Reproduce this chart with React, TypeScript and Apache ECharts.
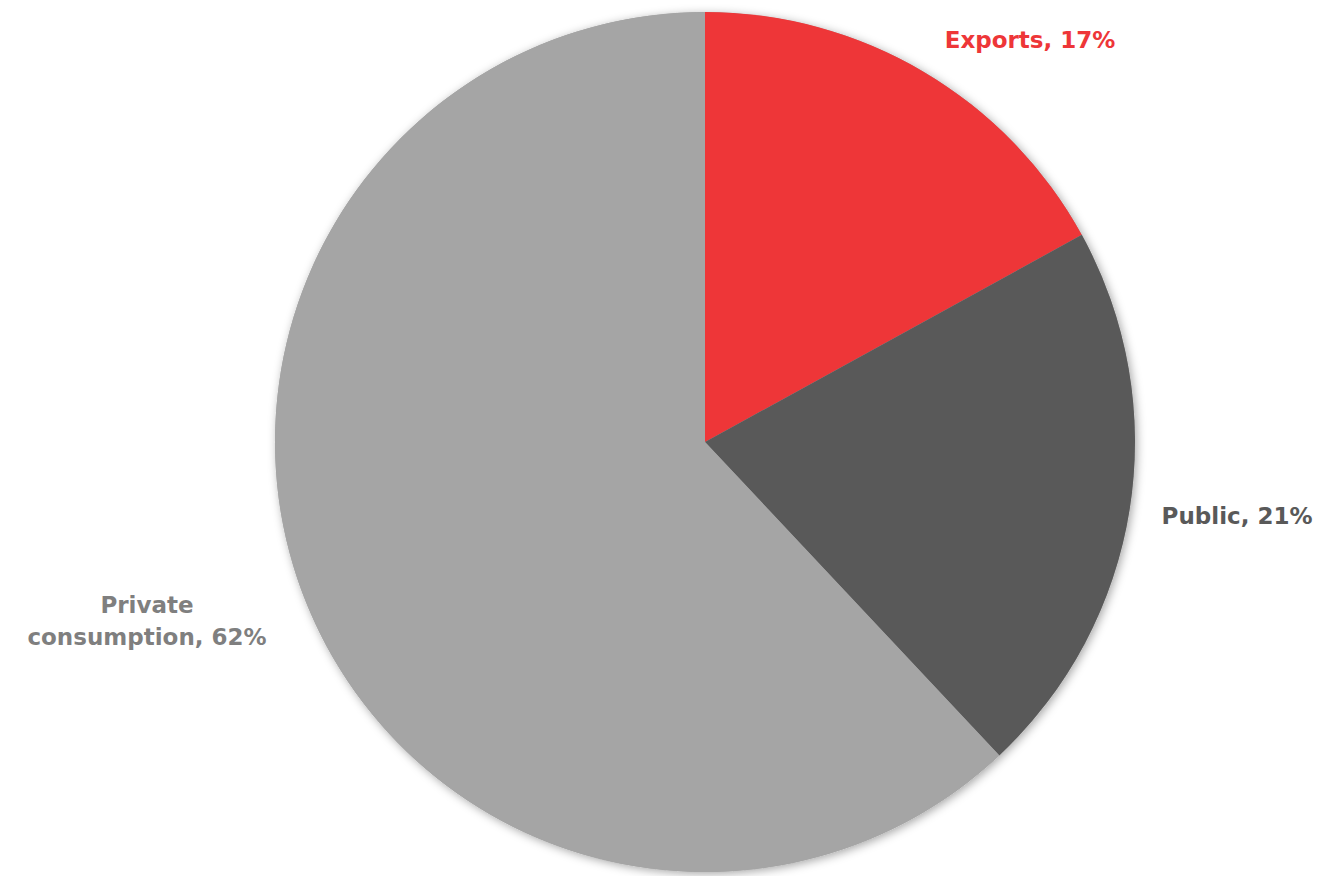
import React, { useEffect, useRef } from "react";
import * as echarts from "echarts";

const categories = ["Exports", "Public", "Private\nconsumption"];
const values = [17, 21, 62];
const colors = ["#EE3638", "#595959", "#A5A5A5"];
const labelColors = ["#EE3638", "#595959", "#7F7F7F"];
const labelPos: [number, number][] = [
  [1030, 40],
  [1237, 516],
  [147, 621],
];

export default function App() {
  const ref = useRef<HTMLDivElement>(null);
  useEffect(() => {
    if (!ref.current) return;
    const chart = echarts.init(ref.current, null, { renderer: "svg" });
    const font = "'DejaVu Sans', sans-serif";
    chart.setOption({
      animation: false,
      backgroundColor: "#FFFFFF",
      series: [
        {
          type: "pie",
          center: [705, 442],
          radius: [0, 430],
          silent: true,
          z: 1,
          label: { show: false },
          labelLine: { show: false },
          itemStyle: {
            color: "#A5A5A5",
            shadowBlur: 10,
            shadowColor: "rgba(0,0,0,0.35)",
            shadowOffsetX: 2,
            shadowOffsetY: 2,
          },
          data: [{ name: "shadow", value: 1 }],
        },
        {
          type: "pie",
          center: [705, 442],
          radius: [0, 430],
          startAngle: 90,
          clockwise: true,
          z: 2,
          label: { show: false },
          labelLine: { show: false },
          data: categories.map((c, i) => ({
            name: c,
            value: values[i],
            itemStyle: { color: colors[i] },
          })),
        },
      ],
      graphic: categories.map((c, i) => ({
        type: "text",
        x: labelPos[i][0],
        y: labelPos[i][1],
        style: {
          text: `${c}, ${values[i]}%`,
          fill: labelColors[i],
          font: `bold 23px ${font}`,
          align: "center",
          verticalAlign: "middle",
          lineHeight: 32,
        },
      })),
    });
    return () => chart.dispose();
  }, []);
  return (
    <div
      ref={ref}
      style={{ position: "fixed", left: 0, top: 0, width: 1322, height: 876 }}
    />
  );
}
